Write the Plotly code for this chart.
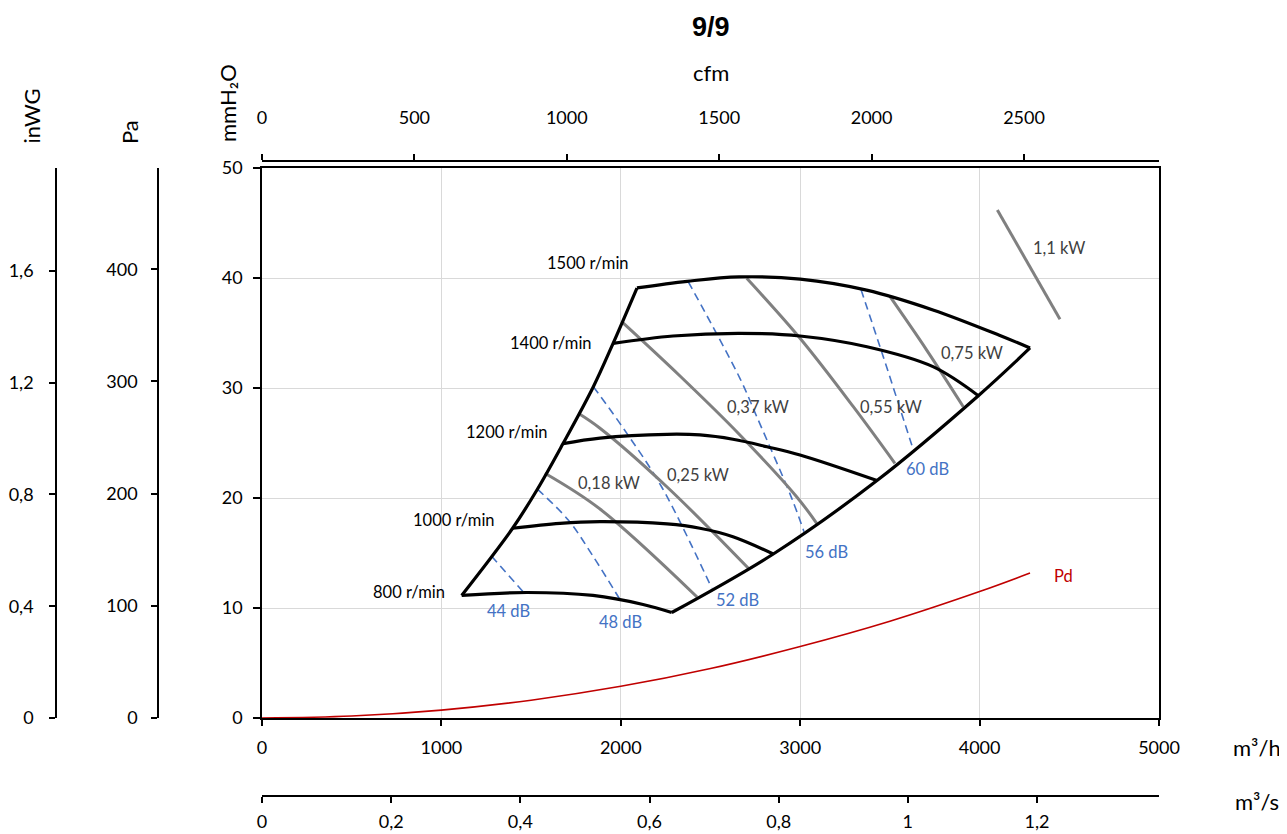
import plotly.graph_objects as go

# ---------------- data (m3/h, mmH2O) ----------------
speed_labels = ["1500 r/min", "1400 r/min", "1200 r/min", "1000 r/min", "800 r/min"]
q_1500 = [2090, 2370, 2660, 3000, 3370, 3740, 4110, 4281]
p_1500 = [39.1, 39.7, 40.1, 39.9, 38.9, 37.1, 34.8, 33.64]
q_1400 = [1957, 2291, 2664, 2999, 3372, 3740, 3993]
p_1400 = [34.06, 34.73, 34.97, 34.73, 33.75, 31.94, 29.3]
q_1200 = [1678, 1884, 2258, 2441, 2625, 2815, 2999, 3428]
p_1200 = [24.95, 25.45, 25.79, 25.73, 25.34, 24.66, 23.91, 21.59]
q_1000 = [1397, 1661, 1884, 2258, 2441, 2625, 2850]
p_1000 = [17.25, 17.7, 17.85, 17.64, 17.25, 16.48, 14.91]
q_800 = [1113, 1477, 1845, 2124, 2284]
p_800 = [11.14, 11.41, 11.14, 10.32, 9.59]

q_surge = [1113, 1397, 1535, 1678, 1847, 1957, 2090]
p_surge = [11.14, 17.25, 20.8, 24.95, 30.12, 34.06, 39.09]
q_limit = [2284, 2850, 3428, 3993, 4281]
p_limit = [9.59, 14.91, 21.59, 29.3, 33.64]

power_labels = ["0,18 kW", "0,25 kW", "0,37 kW", "0,55 kW", "0,75 kW", "1,1 kW"]
q_018 = [1577, 1884, 2425]
p_018 = [22.25, 19.0, 11.0]
q_025 = [1763, 1884, 2258, 2711]
p_025 = [27.7, 26.34, 21.0, 13.61]
q_037 = [2011, 2330, 2664, 2980, 3092]
p_037 = [35.94, 31.09, 25.73, 20.12, 17.7]
q_055 = [2702, 2999, 3296, 3528]
p_055 = [39.97, 34.52, 28.3, 23.15]
q_075 = [3501, 3705, 3909]
p_075 = [38.3, 33.45, 28.3]
q_110 = [4099, 4448]
p_110 = [46.18, 36.25]

sound_labels = ["44 dB", "48 dB", "52 dB", "56 dB", "60 dB"]
q_44 = [1280, 1460]
p_44 = [14.7, 11.4]
q_48 = [1535, 1707, 1847, 1996]
p_48 = [20.8, 18.0, 14.66, 10.75]
q_52 = [1847, 2020, 2228, 2507]
p_52 = [30.12, 26.2, 21.0, 11.8]
q_56 = [2376, 2664, 2758, 2953, 3021]
p_56 = [39.66, 30.88, 27.39, 19.97, 16.94]
q_60 = [3339, 3463, 3630]
p_60 = [38.95, 32.85, 24.4]

q_pd = [0, 500, 1000, 1500, 2000, 2500, 3000, 3500, 4000, 4281]
p_pd = [0, 0.18, 0.72, 1.62, 2.88, 4.5, 6.5, 8.8, 11.5, 13.18]

# label anchor points (data coords)
speed_label_q = [1819, 1611, 1366, 1070, 819]
speed_label_p = [41.34, 34.12, 26.03, 18.0, 11.43]
power_label_q = [1934, 2428, 2762, 3504, 3960, 4445]
power_label_p = [21.34, 22.09, 28.3, 28.3, 33.21, 42.7]
sound_label_q = [1373, 1998, 2653, 3144, 3712]
sound_label_p = [9.75, 8.75, 10.73, 15.12, 22.61]

# tick labels
x_ticks = [0, 1000, 2000, 3000, 4000, 5000]
x_ticktext = ["0", "1000", "2000", "3000", "4000", "5000"]
y_ticks = [0, 10, 20, 30, 40, 50]
y_ticktext = ["0", "10", "20", "30", "40", "50"]
cfm_ticks = [0, 500, 1000, 1500, 2000, 2500]
cfm_ticktext = ["0", "500", "1000", "1500", "2000", "2500"]
m3s_ticks = [0, 0.2, 0.4, 0.6, 0.8, 1.0, 1.2]
m3s_ticktext = ["0", "0,2", "0,4", "0,6", "0,8", "1", "1,2"]
pa_ticks = [0, 100, 200, 300, 400]
pa_ticktext = ["0", "100", "200", "300", "400"]
inwg_ticks = [0, 0.4, 0.8, 1.2, 1.6]
inwg_ticktext = ["0", "0,4", "0,8", "1,2", "1,6"]

# ---------------- layout geometry ----------------
OFF = 8  # page body margin
W, H = 1287 - OFF, 834 - OFF
ML, MR, MT, MB = 12, 10, 12, 10
PW, PH = W - ML - MR, H - MT - MB


def fx(px):
    return (px - OFF - ML) / PW


def fy(py):
    return (H - MB - (py - OFF)) / PH


FONT = "Lato"
BLACK_W = 3.2
GRAY = "#808080"
BLUE = "#4472C4"
RED = "#C00000"

fig = go.Figure()


def add_line(q, p, color, width, dash=None, shape="spline"):
    fig.add_trace(go.Scatter(
        x=q, y=p, mode="lines",
        line=dict(color=color, width=width, dash=dash, shape=shape, smoothing=1.0),
        hoverinfo="skip", showlegend=False))


# Pd
add_line(q_pd, p_pd, RED, 1.6)
# sound
for q, p in [(q_44, p_44), (q_48, p_48), (q_52, p_52), (q_56, p_56), (q_60, p_60)]:
    add_line(q, p, BLUE, 1.6, dash="8px,5px")
# power
for q, p in [(q_018, p_018), (q_025, p_025), (q_037, p_037), (q_055, p_055),
             (q_075, p_075), (q_110, p_110)]:
    add_line(q, p, GRAY, 3)
# speeds and boundaries
for q, p in [(q_1500, p_1500), (q_1400, p_1400), (q_1200, p_1200),
             (q_1000, p_1000), (q_800, p_800)]:
    add_line(q, p, "black", BLACK_W)
add_line(q_surge, p_surge, "black", BLACK_W)
add_line(q_limit, p_limit, "black", BLACK_W)

# empty traces so the secondary axes exist
for xa, ya in [("x2", "y"), ("x3", "y"), ("x", "y2"), ("x", "y3")]:
    fig.add_trace(go.Scatter(x=[], y=[], xaxis=xa, yaxis=ya, showlegend=False,
                             hoverinfo="skip"))

ann = []
LF = 16.5
for t, q, p in zip(speed_labels, speed_label_q, speed_label_p):
    ann.append(dict(x=q, y=p, xref="x", yref="y", text=t, showarrow=False,
                    xanchor="center", yanchor="middle",
                    font=dict(family=FONT, size=LF, color="black")))
for t, q, p in zip(power_labels, power_label_q, power_label_p):
    ann.append(dict(x=q, y=p, xref="x", yref="y", text=t, showarrow=False,
                    xanchor="center", yanchor="middle",
                    font=dict(family=FONT, size=LF, color="#404040")))
for t, q, p in zip(sound_labels, sound_label_q, sound_label_p):
    ann.append(dict(x=q, y=p, xref="x", yref="y", text=t, showarrow=False,
                    xanchor="center", yanchor="middle",
                    font=dict(family=FONT, size=LF, color=BLUE)))
ann.append(dict(x=4470, y=12.91, xref="x", yref="y", text="Pd", showarrow=False,
                xanchor="center", yanchor="middle",
                font=dict(family=FONT, size=LF, color=RED)))

TF = dict(family=FONT, size=22, color="black")
ann += [
    dict(x=fx(711), y=fy(27), xref="paper", yref="paper", text="<b>9/9</b>",
         xanchor="center", yanchor="middle", showarrow=False,
         font=dict(family="Liberation Sans", size=27, color="black")),
    dict(x=fx(711), y=fy(73), xref="paper", yref="paper", text="cfm",
         xanchor="center", yanchor="middle", showarrow=False, font=TF),
    dict(x=fx(1257), y=fy(747), xref="paper", yref="paper", text="m³/h",
         xanchor="center", yanchor="middle", showarrow=False, font=TF),
    dict(x=fx(1257), y=fy(801), xref="paper", yref="paper", text="m³/s",
         xanchor="center", yanchor="middle", showarrow=False, font=TF),
    dict(x=fx(31), y=fy(146), xref="paper", yref="paper", text="inWG",
         textangle=-90, xanchor="center", yanchor="bottom", showarrow=False, font=TF),
    dict(x=fx(129), y=fy(146), xref="paper", yref="paper", text="Pa",
         textangle=-90, xanchor="center", yanchor="bottom", showarrow=False, font=TF),
    dict(x=fx(228), y=fy(144), xref="paper", yref="paper", text="mmH₂O",
         textangle=-90, xanchor="center", yanchor="bottom", showarrow=False, font=TF),
]

TICKF = dict(family=FONT, size=18, color="black")
common = dict(showline=True, linecolor="black", linewidth=1.5, ticks="outside",
              tickcolor="black", tickwidth=1.5, zeroline=False, tickfont=TICKF,
              automargin=False)

fig.update_layout(
    width=W, height=H,
    margin=dict(l=ML, r=MR, t=MT, b=MB, autoexpand=False),
    paper_bgcolor="white", plot_bgcolor="white",
    showlegend=False,
    annotations=ann,
    xaxis=dict(domain=[fx(262), fx(1159)], range=[0, 5000], tickvals=x_ticks,
               ticktext=x_ticktext, showgrid=True, gridcolor="#d9d9d9", gridwidth=1,
               mirror=True, ticklen=6, ticklabelstandoff=7, anchor="y", **common),
    yaxis=dict(domain=[fy(718), fy(168)], range=[0, 50], tickvals=y_ticks,
               ticktext=y_ticktext, showgrid=True, gridcolor="#d9d9d9", gridwidth=1,
               mirror=True, ticklen=7, ticklabelstandoff=7, anchor="x", **common),
    xaxis2=dict(overlaying="x", anchor="free", position=fy(161), side="top",
                range=[0, 5000 / 1.699011], tickvals=cfm_ticks, ticktext=cfm_ticktext,
                showgrid=False, ticklen=6, ticklabelstandoff=23, **common),
    xaxis3=dict(overlaying="x", anchor="free", position=fy(796), side="bottom",
                range=[0, 5000 / 3600], tickvals=m3s_ticks, ticktext=m3s_ticktext,
                showgrid=False, ticklen=6, ticklabelstandoff=4, **common),
    yaxis2=dict(overlaying="y", anchor="free", position=fx(158), side="left",
                range=[0, 50 * 9.80665], tickvals=pa_ticks, ticktext=pa_ticktext,
                showgrid=False, ticklen=6, ticklabelstandoff=10, **common),
    yaxis3=dict(overlaying="y", anchor="free", position=fx(56), side="left",
                range=[0, 50 / 25.4], tickvals=inwg_ticks, ticktext=inwg_ticktext,
                showgrid=False, ticklen=6, ticklabelstandoff=12, **common),
)

fig.write_html("out.html")
